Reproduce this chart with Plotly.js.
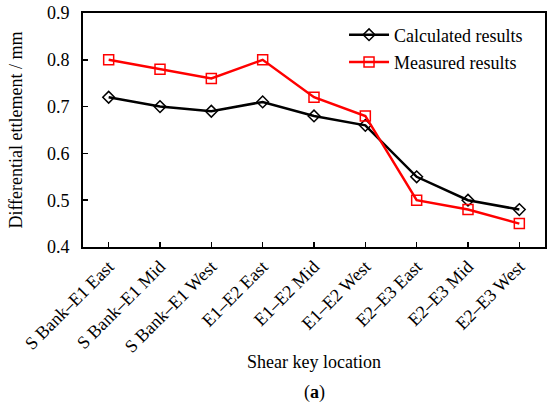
<!DOCTYPE html>
<html>
<head>
<meta charset="utf-8">
<script src="https://cdn.plot.ly/plotly-3.0.1.min.js"></script>
<style>html,body{margin:0;padding:0;background:#fff;}#chart{width:550px;height:406px;}</style>
</head>
<body>
<div id="chart"></div>
<script>
const categories = ["S Bank–E1 East","S Bank–E1 Mid","S Bank–E1 West","E1–E2 East","E1–E2 Mid","E1–E2 West","E2–E3 East","E2–E3 Mid","E2–E3 West"];
const calculated = [0.72, 0.70, 0.69, 0.71, 0.68, 0.66, 0.55, 0.50, 0.48];
const measured = [0.80, 0.78, 0.76, 0.80, 0.72, 0.68, 0.50, 0.48, 0.45];
const yTicks = [0.4, 0.5, 0.6, 0.7, 0.8, 0.9];

const FONT = "'Liberation Serif', 'Times New Roman', serif";

const traces = [
  {x: categories, y: calculated, name: "Calculated results", type: "scatter", mode: "lines+markers",
   legendgroup: "a",
   line: {color: "#000000", width: 2.5},
   marker: {symbol: "diamond-open", size: 9, color: "#000000", line: {width: 1.5, color: "#000000"}}},
  {x: categories, y: measured, name: "Measured results", type: "scatter", mode: "lines+markers",
   legendgroup: "b",
   line: {color: "#ff0000", width: 2.5},
   marker: {symbol: "square-open", size: 10, color: "#ff0000", line: {width: 1.5, color: "#ff0000"}}}
];

const layout = {
  width: 550, height: 406,
  margin: {l: 83, r: 5, t: 13, b: 159},
  paper_bgcolor: "#fff", plot_bgcolor: "#fff",
  font: {family: FONT, size: 18, color: "#000"},
  showlegend: true,
  legend: {x: 0.565, y: 0.985, xanchor: "left", yanchor: "top", bgcolor: "rgba(0,0,0,0)",
           font: {family: FONT, size: 18, color: "#000"}, itemwidth: 40, tracegroupgap: 1},
  xaxis: {
    type: "category", range: [-0.5, 8.5],
    showline: true, linecolor: "#000", linewidth: 2, mirror: true,
    ticks: "inside", ticklen: 5, tickwidth: 1.5, tickcolor: "#000",
    tickangle: -45, showgrid: false, zeroline: false,
    tickfont: {family: FONT, size: 18, color: "#000"},
    title: {text: "Shear key location", font: {family: FONT, size: 18, color: "#000"}, standoff: 0}
  },
  yaxis: {
    range: [0.4, 0.9], tickvals: yTicks, ticktext: yTicks.map(v => v.toFixed(1)),
    showline: true, linecolor: "#000", linewidth: 2, mirror: true,
    ticks: "inside", ticklen: 5, tickwidth: 1.5, tickcolor: "#000",
    showgrid: false, zeroline: false, ticklabelstandoff: 8,
    tickfont: {family: FONT, size: 18, color: "#000"},
    title: {text: "Differential ettlement / mm", font: {family: FONT, size: 18, color: "#000"}, standoff: 20}
  },
  annotations: [
    {text: "(<b>a</b>)", xref: "paper", yref: "paper", x: 0.5, y: -0.62, xanchor: "center", yanchor: "middle",
     showarrow: false, font: {family: FONT, size: 18, color: "#000"}}
  ]
};

Plotly.newPlot("chart", traces, layout, {displayModeBar: false, staticPlot: true});
</script>
</body>
</html>
